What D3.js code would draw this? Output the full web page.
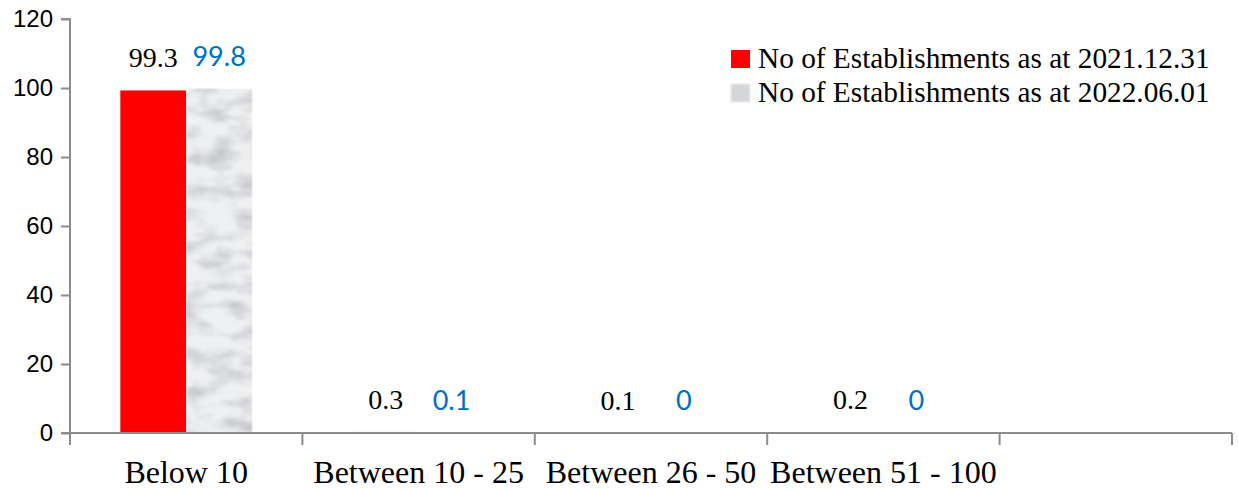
<!DOCTYPE html>
<html>
<head>
<meta charset="utf-8">
<script src="https://cdn.jsdelivr.net/npm/d3@7"></script>
<style>
  html, body { margin: 0; padding: 0; background: #ffffff; }
  svg { display: block; }
</style>
</head>
<body>
<svg id="chart" width="1238" height="489"></svg>
<script>
// Establishments by number of employees (percentage)
const categories = ["Below 10", "Between 10 - 25", "Between 26 - 50", "Between 51 - 100", ""];
const seriesNames = ["No of Establishments as at 2021.12.31", "No of Establishments as at 2022.06.01"];
const values2021 = [99.3, 0.3, 0.1, 0.2, null];
const values2022 = [99.8, 0.1, 0, 0, null];
const yTicks = [0, 20, 40, 60, 80, 100, 120];

const svg = d3.select("#chart");
const W = 1238, H = 489;
const margin = { left: 70, right: 6, top: 19, bottom: 56 };
const x0 = margin.left, x1 = W - margin.right;
const yTop = margin.top, yBottom = H - margin.bottom;

const axisColor = "#8c8c8c";
const serif = "'Liberation Serif', 'Times New Roman', serif";
const sans = "'Liberation Sans', Arial, sans-serif";

// marble-like grey texture for the second series (streaky veins)
const defs = svg.append("defs");
const filt = defs.append("filter").attr("id", "marble")
  .attr("x", 0).attr("y", 0).attr("width", "100%").attr("height", "100%");
filt.append("feTurbulence").attr("type", "fractalNoise")
  .attr("baseFrequency", "0.03 0.06").attr("numOctaves", 4).attr("seed", 11).attr("result", "noise");
filt.append("feColorMatrix").attr("in", "noise").attr("type", "matrix")
  .attr("values", "0 0 0 0 0  0 0 0 0 0  0 0 0 0 0  2.4 0 0 0 -0.98").attr("result", "veins");
filt.append("feComposite").attr("in", "veins").attr("in2", "SourceGraphic").attr("operator", "in").attr("result", "v2");
filt.append("feColorMatrix").attr("in", "v2").attr("type", "matrix")
  .attr("values", "0 0 0 0 0.40  0 0 0 0 0.40  0 0 0 0 0.42  0 0 0 0.65 0").attr("result", "shade");
filt.append("feGaussianBlur").attr("in", "shade").attr("stdDeviation", 1.3).attr("result", "soft");
filt.append("feMerge").call(m => {
  m.append("feMergeNode").attr("in", "SourceGraphic");
  m.append("feMergeNode").attr("in", "soft");
});

const legendFilt = defs.append("filter").attr("id", "swatchBlur");
legendFilt.append("feGaussianBlur").attr("stdDeviation", 1.2);

// scales
const x = d3.scaleBand().domain(d3.range(categories.length)).range([x0, x1]).paddingInner(0).paddingOuter(0);
const groupPad = 0.2165;
const xs = d3.scaleBand().domain([0, 1])
  .range([x.bandwidth() * groupPad, x.bandwidth() * (1 - groupPad)]).padding(0);
const y = d3.scaleLinear().domain([0, 120]).range([yBottom, yTop]);

const seriesColors = ["#ff0000", "#eef0f2"];
const labelColors = ["#000000", "#0070c0"];
const labelFonts = [serif, "Lato, 'Open Sans', sans-serif"];
const allSeries = [values2021, values2022];

// bars
allSeries.forEach((vals, s) => {
  const rows = vals.map((v, i) => ({ i, v })).filter(d => d.v !== null);
  svg.append("g").selectAll("rect").data(rows).join("rect")
    .attr("x", d => x(d.i) + xs(s))
    .attr("y", d => y(d.v))
    .attr("width", xs.bandwidth())
    .attr("height", d => y(0) - y(d.v))
    .attr("fill", seriesColors[s])
    .attr("filter", s === 1 ? "url(#marble)" : null);
});

// value labels
allSeries.forEach((vals, s) => {
  const rows = vals.map((v, i) => ({ i, v })).filter(d => d.v !== null);
  svg.append("g").selectAll("text").data(rows).join("text")
    .attr("x", d => x(d.i) + xs(s) + xs.bandwidth() / 2)
    .attr("y", d => y(d.v) - 23)
    .attr("text-anchor", "middle")
    .attr("font-family", labelFonts[s])
    .attr("font-size", s === 0 ? 28 : 27)
    .attr("fill", labelColors[s])
    .text(d => d3.format("")(d.v));
});

// y axis
const yAxis = d3.axisLeft(y).tickValues(yTicks).tickSize(9).tickPadding(8).tickFormat(d3.format("d"));
const gy = svg.append("g").attr("transform", `translate(${x0},0)`).call(yAxis);
gy.select(".domain").attr("stroke", axisColor).attr("stroke-width", 2)
  .attr("d", `M-9,${yTop}H0V${yBottom}H-9`);
gy.selectAll(".tick line").attr("stroke", axisColor).attr("stroke-width", 2);
gy.selectAll(".tick text").attr("font-family", sans).attr("font-size", 24).attr("fill", "#000");

// x axis with ticks at category boundaries
const gx = svg.append("g").attr("transform", `translate(0,${yBottom})`);
gx.append("line").attr("x1", x0).attr("x2", x1).attr("y1", 0).attr("y2", 0)
  .attr("stroke", axisColor).attr("stroke-width", 2);
const bounds = d3.range(categories.length + 1).map(i => i < categories.length ? x(i) : x1);
gx.selectAll("line.tk").data(bounds).join("line").attr("class", "tk")
  .attr("x1", d => d).attr("x2", d => d).attr("y1", 0).attr("y2", 12)
  .attr("stroke", axisColor).attr("stroke-width", 2);
gx.selectAll("text").data(categories).join("text")
  .attr("x", (d, i) => x(i) + x.bandwidth() / 2)
  .attr("y", 50)
  .attr("text-anchor", "middle")
  .attr("font-family", serif).attr("font-size", 32).attr("fill", "#000")
  .text(d => d);

// legend
const legend = svg.append("g").attr("transform", "translate(731,50)");
seriesNames.forEach((name, s) => {
  const row = legend.append("g").attr("transform", `translate(0,${s * 34})`);
  row.append("rect").attr("width", 19).attr("height", 18)
    .attr("fill", s === 0 ? "#ff0000" : "#d4d6d9")
    .attr("filter", s === 1 ? "url(#swatchBlur)" : null);
  row.append("text").attr("x", 27).attr("y", 18)
    .attr("font-family", serif).attr("font-size", 29.3).attr("fill", "#000")
    .text(name);
});
</script>
</body>
</html>
